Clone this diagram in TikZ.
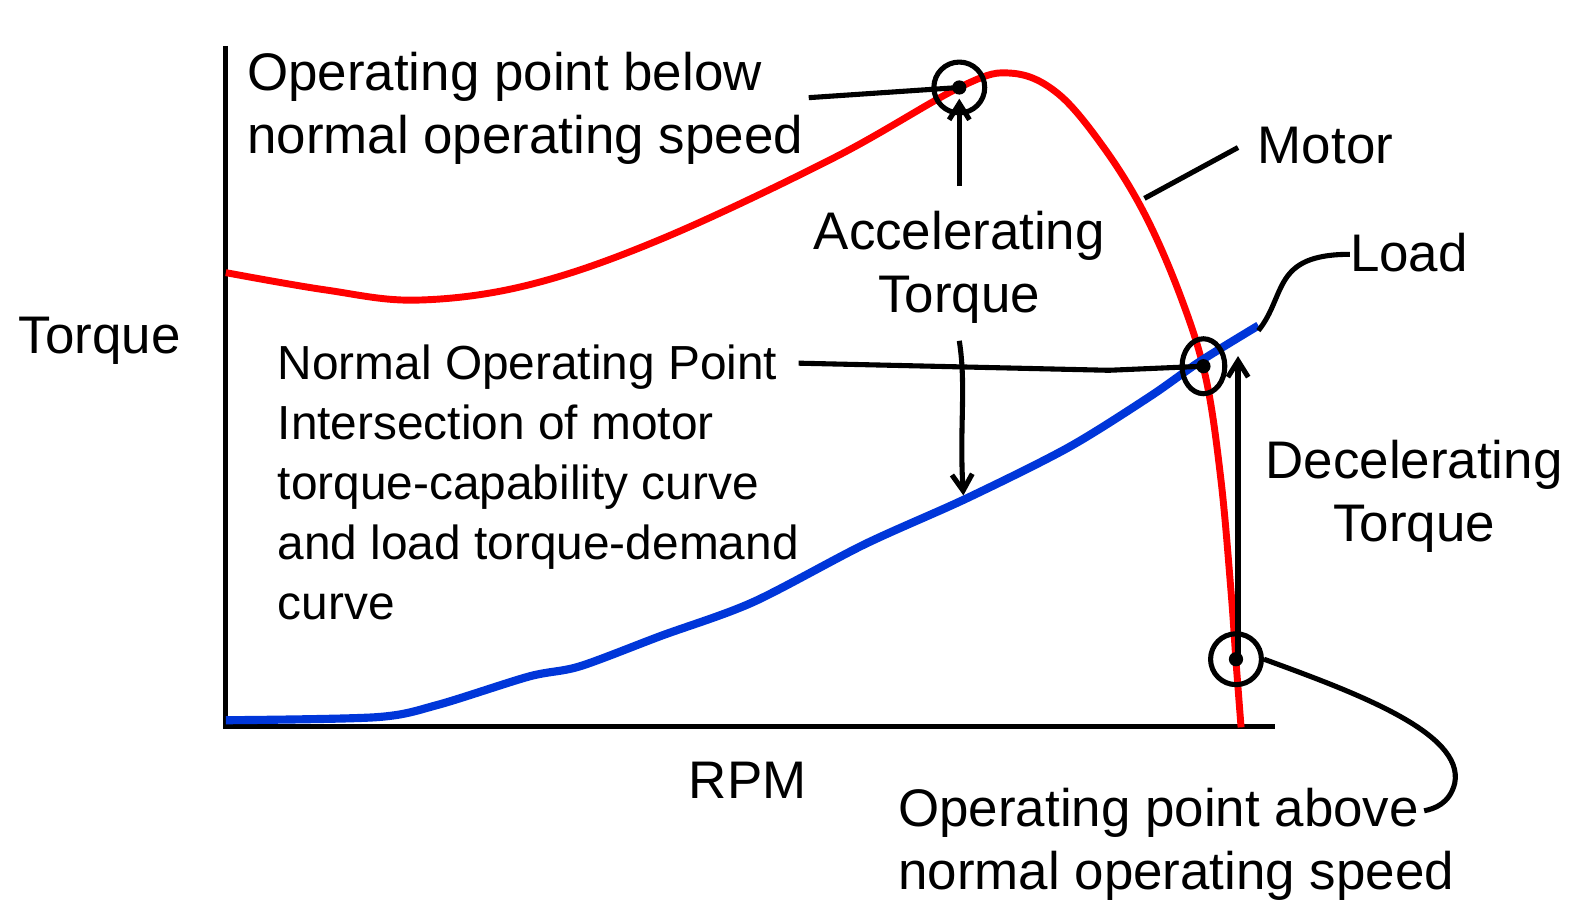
\documentclass[tikz,border=0pt]{standalone}
\usepackage{fontspec}
\setmainfont{Liberation Sans}
\usetikzlibrary{arrows.meta,shapes.geometric}
\begin{document}
\begin{tikzpicture}[x=0.5pt,y=-0.5pt,
  big/.style={font=\fontsize{26}{31}\selectfont},
  mid/.style={font=\fontsize{23.5}{29.5}\selectfont},
  ink/.style={line width=2.5pt,black},
  arr/.style={ink,-{Straight Barb[length=8pt,width=10pt]}},
  opmark/.style={ink,circle,minimum size=25pt,inner sep=0pt,draw}]
\useasboundingbox (0,0) rectangle (1563,905);
% axes
\coordinate (ytop) at (222,45); \coordinate (orig) at (222,714); \coordinate (xend) at (1253,714);
\draw[line width=2.6pt] (ytop) -- (orig) -- (xend);
% motor curve
\draw[red,line width=3.4pt] plot[smooth,tension=0.6] coordinates {(222,268) (320,285) (410,295) (520,280) (650,235) (820,155) (945,85) (995,72) (1040,92) (1085,145) (1125,210) (1160,290) (1185,370) (1200,470) (1210,580) (1215,650) (1220,715)};
% load curve
\draw[blue!75!cyan!85!black,line width=4pt] plot[smooth,tension=0.5] coordinates {(222,708) (370,705) (430,693) (520,665) (570,655) (650,625) (740,592) (850,535) (950,490) (1050,440) (1130,390) (1180,355) (1237,320)};
% markers
\node[opmark] (pb) at (943,86) {};
\node[ink,draw,ellipse,minimum width=21pt,minimum height=27pt,inner sep=0pt] (pn) at (1183,360) {};
\node[opmark] (pa) at (1215,648) {};
\fill (pb.center) circle (7); \fill (pn.center) circle (7); \fill (pa.center) circle (7);
% texts
\node[big,align=left,anchor=north west] (tb) at (236,44) {Operating point below\\normal operating speed};
\node[big] (tq) at (98,335) {Torque};
\node[big,align=center] (acc) at (943,263) {Accelerating\\Torque};
\node[big] (mot) at (1303,143) {Motor};
\node[big] (ld) at (1385,248) {Load};
\node[big,align=center] (dec) at (1390,488) {Decelerating\\Torque};
\node[mid,align=left,anchor=north west] (nop) at (266,332) {Normal Operating Point\\Intersection of motor\\torque-capability curve\\and load torque-demand\\curve};
\node[big] (rpm) at (735,767) {RPM};
\node[big,align=left,anchor=north west] (ta) at (876,768) {Operating point above\\normal operating speed};
% leaders
\coordinate (l1) at (795,96);
\draw[ink] (l1) -- (pb.center);
\coordinate (a1) at (943,183);
\draw[arr] (a1) -- (943,97);
\coordinate (m1) at (1125,195); \coordinate (m2) at (1217,145);
\draw[ink] (m1) -- (m2);
\coordinate (ld1) at (1237,325); \coordinate (ld2) at (1327,250);
\draw[ink] (ld1) .. controls (1265,290) and (1250,250) .. (ld2);
\coordinate (n1) at (785,357);
\draw[ink] (n1) -- (1090,364) -- (pn.center);
\coordinate (a2) at (943,335); \coordinate (a3) at (947,487);
\draw[arr] (a2) .. controls (950,380) and (943,420) .. (a3);
\coordinate (d1) at (1217,650); \coordinate (d2) at (1217,350);
\draw[arr] (d1) -- (d2);
\coordinate (b1) at (1400,797);
\draw[ink] (pa.east) .. controls (1330,680) and (1440,720) .. (1430,770) .. controls (1425,790) and (1410,795) .. (b1);
\end{tikzpicture}
\end{document}
